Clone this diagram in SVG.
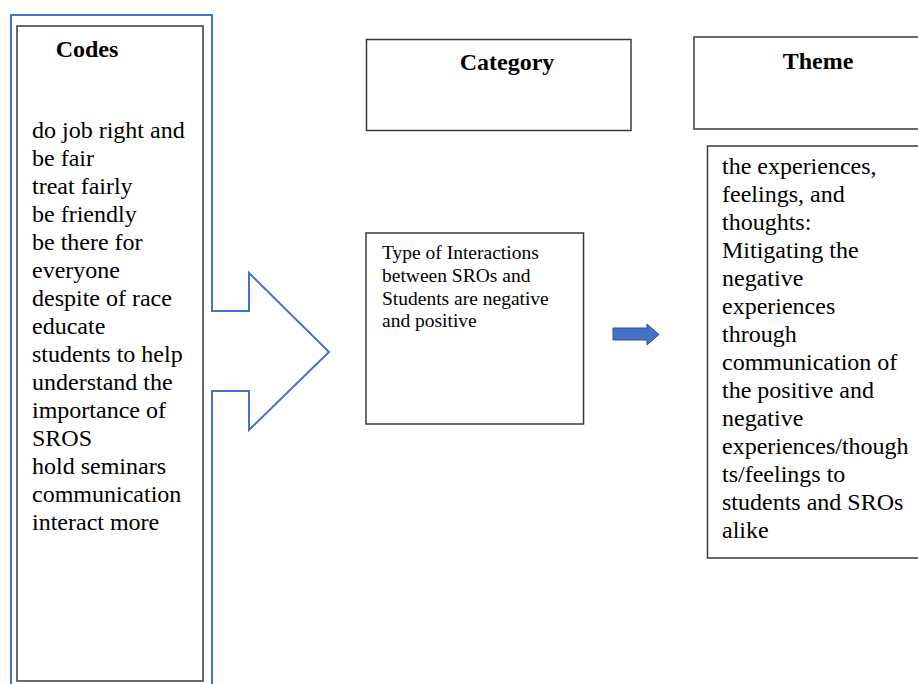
<svg xmlns="http://www.w3.org/2000/svg" width="918" height="684" viewBox="0 0 918 684">
  <style>
    .box { fill: #ffffff; stroke: #3a3a3a; stroke-width: 1.5; }
    .outline { fill: #ffffff; stroke: #4472c4; stroke-width: 2; stroke-linejoin: miter; }
    .title { font-family: "Liberation Serif", "Times New Roman", serif; font-size: 24px; font-weight: bold; fill: #000; }
    .list { font-family: "Liberation Serif", "Times New Roman", serif; font-size: 24px; fill: #000; }
    .small { font-family: "Liberation Serif", "Times New Roman", serif; font-size: 19.5px; fill: #000; }
    .flow { fill: #4472c4; stroke: #2f528f; stroke-width: 1; }
  </style>
  <rect width="918" height="684" fill="#ffffff"/>

  <!-- Codes: blue outline with arrow pointing right, inner list box -->
  <g id="codes">
    <path class="outline" d="M 11,700 V 15 H 212 V 311 H 249 V 273 L 329,352 L 249,430 V 391 H 212 V 700"/>
    <rect class="box" x="17" y="26" width="186" height="655"/>
    <text class="title" x="87" y="57" text-anchor="middle">Codes</text>
    <text class="list" font-family="Liberation Serif, serif">
      <tspan x="32" y="138">do job right and</tspan>
      <tspan x="32" y="166">be fair</tspan>
      <tspan x="32" y="194">treat fairly</tspan>
      <tspan x="32" y="222">be friendly</tspan>
      <tspan x="32" y="250">be there for</tspan>
      <tspan x="32" y="278">everyone</tspan>
      <tspan x="32" y="306">despite of race</tspan>
      <tspan x="32" y="334">educate</tspan>
      <tspan x="32" y="362">students to help</tspan>
      <tspan x="32" y="390">understand the</tspan>
      <tspan x="32" y="418">importance of</tspan>
      <tspan x="32" y="446">SROS</tspan>
      <tspan x="32" y="474">hold seminars</tspan>
      <tspan x="32" y="502">communication</tspan>
      <tspan x="32" y="530">interact more</tspan>
    </text>
  </g>

  <!-- Category header -->
  <g id="category-header">
    <rect class="box" x="366.5" y="39.5" width="264.5" height="91"/>
    <text class="title" x="507" y="70" text-anchor="middle">Category</text>
  </g>

  <!-- Category content -->
  <g id="category">
    <rect class="box" x="366" y="233" width="217.5" height="191"/>
    <text class="small">
      <tspan x="382" y="259">Type of Interactions</tspan>
      <tspan x="382" y="282">between SROs and</tspan>
      <tspan x="382" y="305">Students are negative</tspan>
      <tspan x="382" y="327">and positive</tspan>
    </text>
  </g>

  <!-- Theme header -->
  <g id="theme-header">
    <rect class="box" x="694" y="37" width="240" height="92"/>
    <text class="title" x="818" y="69" text-anchor="middle">Theme</text>
  </g>

  <!-- Theme content -->
  <g id="theme">
    <rect class="box" x="707.5" y="146" width="230" height="412"/>
    <text class="list" font-family="Liberation Serif, serif">
      <tspan x="722" y="174">the experiences,</tspan>
      <tspan x="722" y="202">feelings, and</tspan>
      <tspan x="722" y="230">thoughts:</tspan>
      <tspan x="722" y="258">Mitigating the</tspan>
      <tspan x="722" y="286">negative</tspan>
      <tspan x="722" y="314">experiences</tspan>
      <tspan x="722" y="342">through</tspan>
      <tspan x="722" y="370">communication of</tspan>
      <tspan x="722" y="398">the positive and</tspan>
      <tspan x="722" y="426">negative</tspan>
      <tspan x="722" y="454">experiences/though</tspan>
      <tspan x="722" y="482">ts/feelings to</tspan>
      <tspan x="722" y="510">students and SROs</tspan>
      <tspan x="722" y="538">alike</tspan>
    </text>
  </g>

  <!-- Connectors -->
  <g id="connectors">
    <path class="flow" d="M 613,328 H 647 V 324 L 659,334.5 L 647,345 V 340 H 613 Z"/>
  </g>
</svg>
